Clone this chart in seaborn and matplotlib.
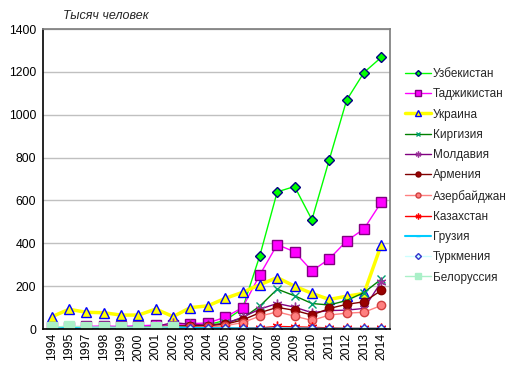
import numpy as np
import pandas as pd
import seaborn as sns
import matplotlib.pyplot as plt

# Years on the axis (1996 is missing in the source table)
years = ["1994", "1995", "1997", "1998", "1999", "2000", "2001", "2002", "2003", "2004",
         "2005", "2006", "2007", "2008", "2009", "2010", "2011", "2012", "2013", "2014"]

nan = np.nan
uzbekistan = [3, 4, 5, 6, 6, 7, 8, 10, 15, 20, 40, 95, 343, 640, 665, 510, 790, 1068, 1197, 1268]
tajikistan = [8, 10, 12, 14, 12, 15, 18, 20, 25, 28, 55, 100, 253, 394, 360, 271, 327, 411, 467, 592]
ukraine = [57, 92, 78, 76, 65, 65, 93, 58, 100, 108, 143, 171, 207, 240, 200, 166, 138, 153, 166, 394]
kirgizia = [2, 3, 3, 4, 4, 5, 6, 8, 12, 15, 28, 50, 107, 186, 155, 119, 112, 133, 170, 233]
moldavia = [3, 4, 5, 8, 8, 10, 12, 30, 22, 18, 25, 55, 93, 119, 102, 76, 86, 88, 96, 220]
armenia = [2, 3, 4, 6, 6, 8, 10, 15, 15, 15, 22, 42, 76, 101, 87, 65, 96, 115, 127, 180]
azerbaijan = [1, 2, 3, 4, 4, 5, 6, 8, 8, 10, 15, 30, 60, 80, 60, 40, 65, 74, 78, 110]
kazakhstan = [2, 3, 3, 4, 4, 4, 5, 5, 4, 4, 4, 4, 5, 12, 10, 8, 5, 3, 3, 3]
georgia = [5, 7, 6, 6, 5, 6, 6, 8, 5, 4, 4, 3, 2, 2, 2, 2, 1, 1, 1, 1]
turkmenia = [nan, nan, nan, nan, nan, nan, nan, nan, 0, 0, 0, 0, 0, 0, 0, 0, 0, 0, 0, 0]
belarus = [8, 14, 9, 9, 8, 9, 8, 11, nan, nan, nan, nan, nan, nan, nan, nan, nan, nan, nan, nan]

series = {
    "Узбекистан": uzbekistan,
    "Таджикистан": tajikistan,
    "Украина": ukraine,
    "Киргизия": kirgizia,
    "Молдавия": moldavia,
    "Армения": armenia,
    "Азербайджан": azerbaijan,
    "Казахстан": kazakhstan,
    "Грузия": georgia,
    "Туркмения": turkmenia,
    "Белоруссия": belarus,
}

# line colour, line width, marker, marker size, face colour, edge colour
styles = {
    "Узбекистан": ("#00FF00", 1.0, "D", 5, "#00FF00", "#000080"),
    "Таджикистан": ("#FF00FF", 1.0, "s", 7, "#FF00FF", "#800080"),
    "Украина": ("#FFFF00", 2.5, "^", 7, "#FFFF00", "#0000FF"),
    "Киргизия": ("#008000", 1.0, "x", 6, "#00A070", "#00A070"),
    "Молдавия": ("#800080", 1.0, (6, 2, 0), 7, "#993399", "#993399"),
    "Армения": ("#800000", 1.0, "o", 6, "#990000", "#800000"),
    "Азербайджан": ("#FF8080", 1.0, "o", 6, "#FF8080", "#D04040"),
    "Казахстан": ("#FF0000", 1.0, (6, 2, 0), 7, "#FF0000", "#FF0000"),
    "Грузия": ("#00CCFF", 1.5, "_", 6, "#00CCFF", "#00CCFF"),
    "Туркмения": ("#CCFFFF", 1.0, "D", 5, "#CCFFFF", "#3333CC"),
    "Белоруссия": ("#AAF0C8", 1.0, "s", 7, "#AAF0C8", "#AAF0C8"),
}

df = pd.DataFrame({"year": years, **series})
long_df = df.melt(id_vars="year", var_name="country", value_name="value").dropna()

sns.set_theme(style="white")
plt.rcParams["font.family"] = ["Liberation Sans", "DejaVu Sans"]

fig = plt.figure(figsize=(5.14, 3.74), dpi=100)
ax = fig.add_axes([43 / 514, 1 - 329 / 374, 347 / 514, 300 / 374])

for name in series:
    color, lw, marker, ms, face, edge = styles[name]
    sub = long_df[long_df["country"] == name]
    sns.lineplot(data=sub, x="year", y="value", ax=ax, color=color, linewidth=lw,
                 marker=marker, markersize=ms, markerfacecolor=face,
                 markeredgecolor=edge, markeredgewidth=1.0, label=name, sort=False)

ax.set_xlim(-0.5, len(years) - 0.5)
ax.set_ylim(0, 1400)
ax.set_yticks(range(0, 1401, 200))
ax.set_xlabel("")
ax.set_ylabel("")
ax.yaxis.grid(True, color="#C0C0C0", linewidth=1)
ax.set_axisbelow(True)
ax.tick_params(axis="both", length=0, labelsize=8.8, colors="black")
ax.tick_params(axis="x", rotation=90, pad=3)
ax.tick_params(axis="y", pad=5)
for s in ["top", "right"]:
    ax.spines[s].set_color("#808080")
for s in ["left", "bottom"]:
    ax.spines[s].set_color("black")
    ax.spines[s].set_linewidth(1.2)

handles, labels = ax.get_legend_handles_labels()
ax.get_legend().remove()
fig.legend(handles, labels, loc="upper left", bbox_to_anchor=(405 / 514, 1 - 68 / 374),
           frameon=False, fontsize=8.5, handlelength=2.2, labelspacing=0.7,
           handletextpad=0.15, borderpad=0, borderaxespad=0, markerscale=0.6)

fig.text(63 / 514, 1 - 16 / 374, "Тысяч человек", style="italic", fontsize=9,
         va="center", ha="left")

fig.savefig("out.png", dpi=100)
